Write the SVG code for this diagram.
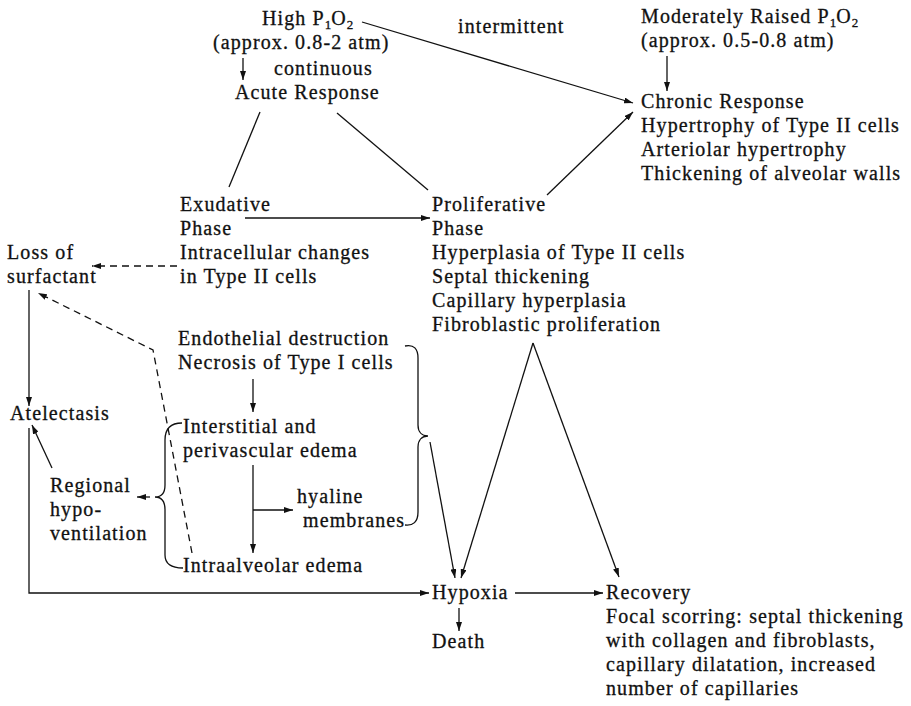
<svg xmlns="http://www.w3.org/2000/svg" width="911" height="706" viewBox="0 0 911 706">
<defs>
<style>
text{font-family:"Liberation Serif","Times New Roman",serif;font-size:20px;letter-spacing:1.1px;fill:#111;stroke:#111;stroke-width:0.3}
.s{font-size:13px;letter-spacing:0}
.ln{stroke:#111;stroke-width:1.3;fill:none}
.ar{marker-end:url(#ah)}
.dash{stroke-dasharray:7 5}
</style>
<marker id="ah" viewBox="0 0 9 6" refX="9" refY="3" markerWidth="9" markerHeight="6" markerUnits="userSpaceOnUse" orient="auto">
<path d="M0,0 L9,3 L0,6 z" fill="#111"/>
</marker>
</defs>
<rect width="911" height="706" fill="#fff"/>

<g id="connectors">
<line class="ln ar" x1="362" y1="22" x2="633" y2="103"/>
<line class="ln ar" x1="243" y1="58" x2="243" y2="80"/>
<line class="ln ar" x1="667" y1="56" x2="667" y2="91"/>
<line class="ln" x1="260" y1="112" x2="229" y2="187"/>
<line class="ln" x1="337" y1="113" x2="428" y2="190"/>
<line class="ln ar" x1="547" y1="195" x2="633" y2="112"/>
<line class="ln ar" x1="245" y1="218" x2="430" y2="218"/>
<line class="ln ar dash" x1="177" y1="266" x2="92" y2="266"/>
<line class="ln ar" x1="29" y1="290" x2="29" y2="406"/>
<line class="ln ar" x1="253" y1="379" x2="253" y2="412"/>
<line class="ln ar" x1="253" y1="465" x2="253" y2="553"/>
<line class="ln ar" x1="253" y1="510" x2="293" y2="510"/>
<line class="ln ar" x1="150" y1="497" x2="137" y2="497"/>
<line class="ln ar" x1="52" y1="468" x2="32" y2="425"/>
<polyline class="ln ar dash" points="192,553 153,350 38,293"/>
<polyline class="ln ar" points="29,428 29,593 429,593"/>
<line class="ln ar" x1="430" y1="442" x2="455" y2="578"/>
<line class="ln ar" x1="533" y1="343" x2="461" y2="578"/>
<line class="ln ar" x1="533" y1="343" x2="619" y2="577"/>
<line class="ln ar" x1="515" y1="593" x2="603" y2="593"/>
<line class="ln ar" x1="459" y1="608" x2="459" y2="631"/>
<path class="ln" d="M182,423 C171,423 165,428 165,440 L165,485 C165,493 161,497 155,497 C161,497 165,501 165,510 L165,555 C165,565 172,568 183,568"/>
<path class="ln" d="M405,346 C414,344 418,349 418,358 L418,425 C418,432 422,436 428,436 C422,436 418,440 418,447 L418,512 C418,522 413,526 405,525"/>
<text x="274" y="75">continuous</text>
<text x="458" y="33">intermittent</text>
</g>

<g id="n-high">
<text x="262" y="25">High P<tspan class="s" dy="4">1</tspan><tspan dy="-4">O</tspan><tspan class="s" dy="4">2</tspan></text>
<text x="213" y="49">(approx. 0.8-2 atm)</text>
</g>
<g id="n-acute"><text x="235" y="99">Acute Response</text></g>
<g id="n-moderate">
<text x="641" y="23">Moderately Raised P<tspan class="s" dy="4">1</tspan><tspan dy="-4">O</tspan><tspan class="s" dy="4">2</tspan></text>
<text x="641" y="47">(approx. 0.5-0.8 atm)</text>
</g>
<g id="n-chronic">
<text x="641" y="108">Chronic Response</text>
<text x="641" y="132">Hypertrophy of Type II cells</text>
<text x="641" y="156">Arteriolar hypertrophy</text>
<text x="641" y="180">Thickening of alveolar walls</text>
</g>
<g id="n-exudative">
<text x="180" y="211">Exudative</text>
<text x="180" y="235">Phase</text>
<text x="180" y="259">Intracellular changes</text>
<text x="180" y="283">in Type II cells</text>
</g>
<g id="n-proliferative">
<text x="432" y="211">Proliferative</text>
<text x="432" y="235">Phase</text>
<text x="432" y="259">Hyperplasia of Type II cells</text>
<text x="432" y="283">Septal thickening</text>
<text x="432" y="307">Capillary hyperplasia</text>
<text x="432" y="331">Fibroblastic proliferation</text>
</g>
<g id="n-loss">
<text x="7" y="259">Loss of</text>
<text x="7" y="283">surfactant</text>
</g>
<g id="n-endothelial">
<text x="178" y="345">Endothelial destruction</text>
<text x="178" y="369">Necrosis of Type I cells</text>
</g>
<g id="n-interstitial">
<text x="183" y="433">Interstitial and</text>
<text x="183" y="457">perivascular edema</text>
</g>
<g id="n-hyaline">
<text x="297" y="503">hyaline</text>
<text x="303" y="527">membranes</text>
</g>
<g id="n-intraalveolar"><text x="183" y="572">Intraalveolar edema</text></g>
<g id="n-atelectasis"><text x="10" y="420">Atelectasis</text></g>
<g id="n-regional">
<text x="50" y="492">Regional</text>
<text x="50" y="516">hypo-</text>
<text x="50" y="540">ventilation</text>
</g>
<g id="n-hypoxia"><text x="432" y="599">Hypoxia</text></g>
<g id="n-death"><text x="432" y="648">Death</text></g>
<g id="n-recovery">
<text x="606" y="599">Recovery</text>
<text x="606" y="623">Focal scorring: septal thickening</text>
<text x="606" y="647">with collagen and fibroblasts,</text>
<text x="606" y="671">capillary dilatation, increased</text>
<text x="606" y="695">number of capillaries</text>
</g>
</svg>
